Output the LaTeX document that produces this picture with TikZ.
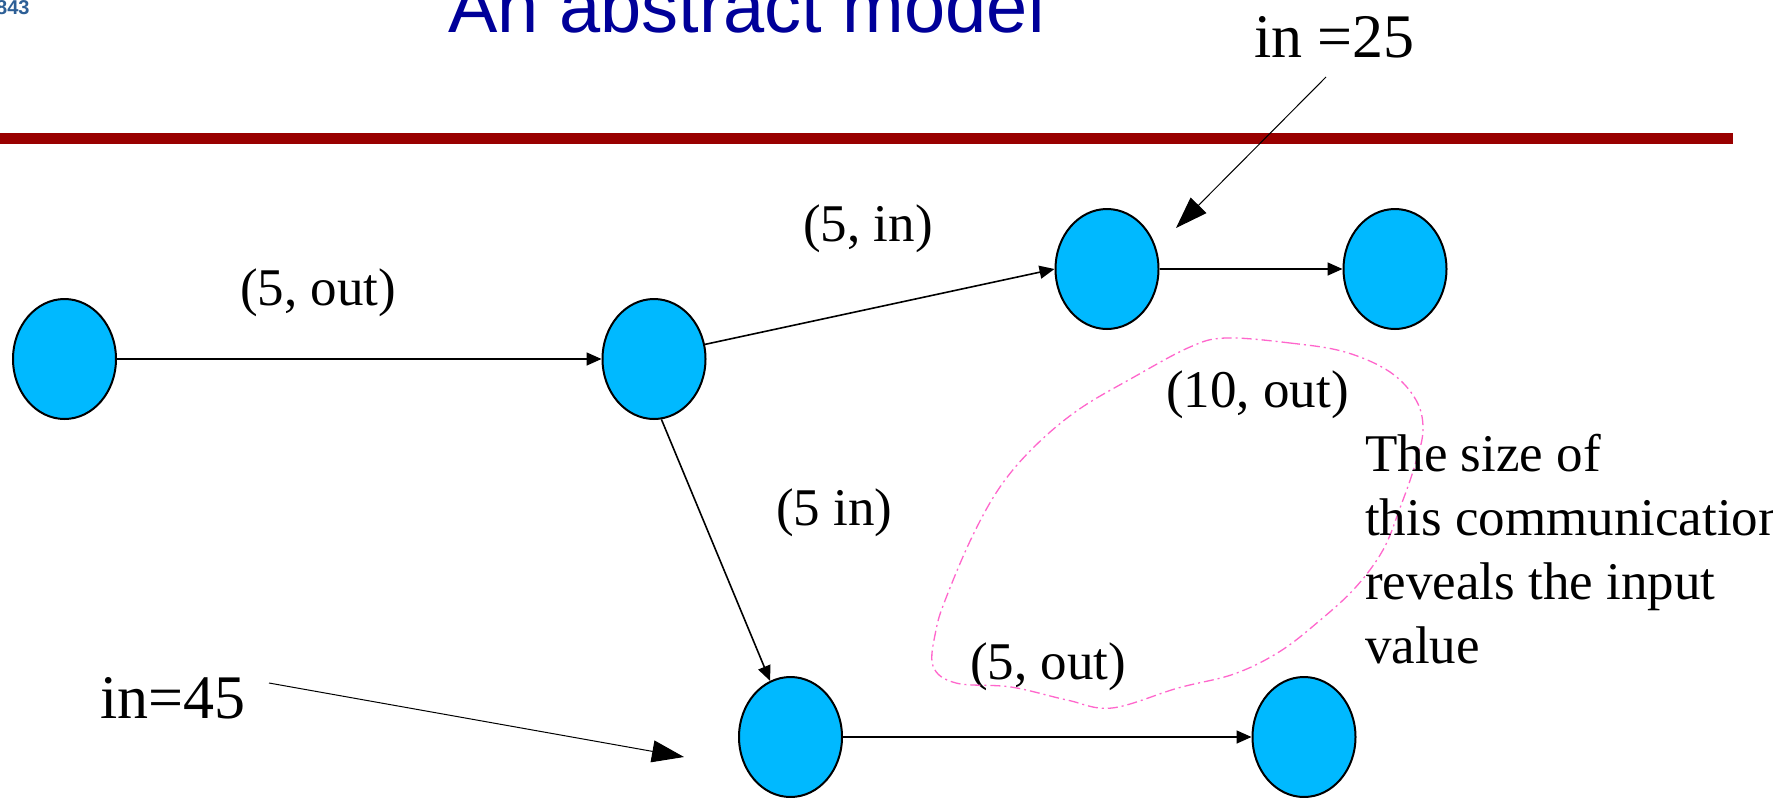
\documentclass[tikz,border=0pt]{standalone}
\usepackage{fontspec}
\setmainfont{Liberation Serif}
\newfontfamily\titlefont{Liberation Sans}
\usetikzlibrary{arrows.meta,shapes.geometric}
\definecolor{nodeblue}{RGB}{0,185,255}
\definecolor{titleblue}{RGB}{0,0,153}
\definecolor{barred}{RGB}{153,0,0}
\definecolor{curvepink}{RGB}{255,102,204}
\definecolor{logoblue}{RGB}{45,95,150}
\begin{document}
\begin{tikzpicture}[x=1pt,y=-1pt,
  vertex/.style={ellipse, draw=black, line width=2pt, fill=nodeblue,
    minimum width=103pt, minimum height=120pt, inner sep=0pt},
  lbl/.style={anchor=base west, inner sep=0pt, font=\fontsize{53}{64}\selectfont},
  biglbl/.style={anchor=base west, inner sep=0pt, font=\fontsize{62}{70}\selectfont},
  edgearrow/.style={line width=1.6pt, -{Triangle[length=15pt,width=13pt]}},
  bigarrow/.style={line width=1pt, -{Triangle[length=32pt,width=22pt]}},
  commcurve/.style={curvepink, line width=1.3pt,
    dash pattern=on 10pt off 4pt on 2pt off 4pt}]
\useasboundingbox (0,0) rectangle (1773,798);
\fill[white] (0,0) rectangle (1773,798);

% logo fragment and title
\node[anchor=base west, inner sep=0pt, text=logoblue,
  font=\titlefont\bfseries\fontsize{20}{22}\selectfont] (logo) at (-4,14) {843};
\node[anchor=base west, inner sep=0pt, text=titleblue,
  font=\titlefont\fontsize{74}{80}\selectfont] (title) at (448,32) {An abstract model};
\draw[barred, line width=11pt] (0,138.5) -- (1733,138.5);

% vertices
\node[vertex] (A) at (64.5,359) {};
\node[vertex] (B) at (654,359) {};
\node[vertex] (C) at (1107,269) {};
\node[vertex] (D) at (1395,269) {};
\node[vertex] (E) at (790.5,737) {};
\node[vertex] (F) at (1304,737) {};

% edges
\draw[edgearrow] (A) -- (B);
\draw[edgearrow] (B.16) -- (C.west);
\draw[edgearrow] (C) -- (D);
\draw[edgearrow] (B.-83) -- (E.110);
\draw[edgearrow] (E) -- (F);

% labels
\node[lbl] (l1) at (240,305) {(5, out)};
\node[lbl] (l2) at (803,241) {(5, in)};
\node[lbl] (l3) at (776,525) {(5 in)};
\node[lbl] (l4) at (1166,407) {(10, out)};
\node[lbl] (l5) at (970,679) {(5, out)};

% inputs
\node[biglbl] (in25) at (1254,57) {in =25};
\coordinate (s25) at (1326,77);
\coordinate (t25) at (1176,228);
\draw[bigarrow] (s25) -- (t25);
\node[biglbl] (in45) at (100,718) {in=45};
\coordinate (s45) at (269,683);
\coordinate (t45) at (684,757);
\draw[bigarrow] (s45) -- (t45);

% communication curve
\draw[commcurve] plot[smooth cycle, tension=0.6] coordinates {
  (1226,338) (1290,343) (1345,352) (1390,372) (1416,400) (1423,430)
  (1415,465) (1400,508) (1383,550) (1355,588) (1318,622) (1279,652)
  (1234,674) (1178,688) (1112,708) (1067,700) (1011,687) (956,683)
  (933,666) (936,630) (946,598) (972,537) (1000,487) (1034,447)
  (1078,410) (1134,377) (1190,347)};

% note
\node[anchor=north west, inner sep=0pt, align=left,
  font=\fontsize{53}{64}\selectfont] (note) at (1365,434)
  {The size of\\this communication\\reveals the input\\value};
\end{tikzpicture}
\end{document}
